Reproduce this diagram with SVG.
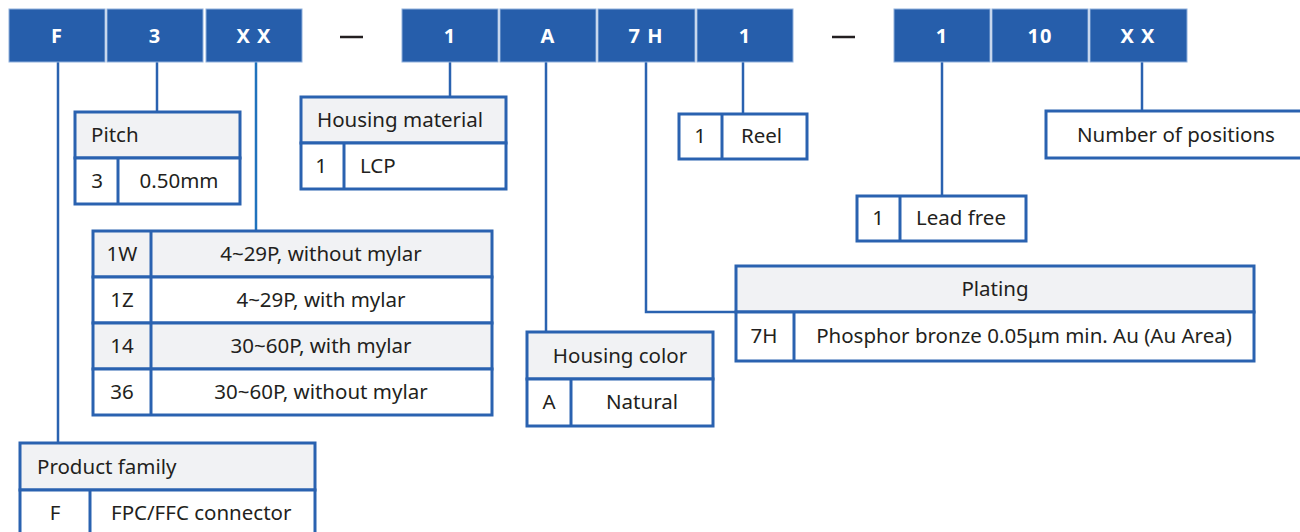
<svg xmlns="http://www.w3.org/2000/svg" width="1300" height="532" viewBox="0 0 1300 532">
<style>
.code{fill:#265eab;stroke:#8fb0dc;stroke-width:1}
.ct{font-family:"Noto Sans","Liberation Sans",sans-serif;font-size:20px;font-weight:bold;fill:#fff;text-anchor:middle;letter-spacing:1px}
.hd{fill:#f1f2f4;stroke:#2a62b0;stroke-width:3}
.cell{fill:#fff;stroke:#2a62b0;stroke-width:3}
.t{font-family:"Noto Sans","Liberation Sans",sans-serif;font-size:20.5px;fill:#231f20}
.m{text-anchor:middle}
.ln{fill:none;stroke:#2a62b0;stroke-width:2.5}
.dash{stroke:#231f20;stroke-width:2.5}
</style>
<rect width="1300" height="532" fill="#fff"/>
<g id="connectors">
<path class="ln" d="M58 62V443"/>
<path class="ln" d="M157 62V112"/>
<path class="ln" d="M256 62V231" style="stroke:#1f72bd"/>
<path class="ln" d="M450 62V97"/>
<path class="ln" d="M546 62V332"/>
<path class="ln" d="M646 62V312H736"/>
<path class="ln" d="M743 62V114"/>
<path class="ln" d="M942 62V196"/>
<path class="ln" d="M1142 62V111"/>
</g>
<g id="code">
<rect class="code" x="9" y="9" width="96" height="53"/><text class="ct" x="57" y="43">F</text>
<rect class="code" x="107" y="9" width="96" height="53"/><text class="ct" x="155" y="43">3</text>
<rect class="code" x="206" y="9" width="96" height="53"/><text class="ct" x="254" y="43">X X</text>
<line class="dash" x1="340" y1="37" x2="363" y2="37"/>
<rect class="code" x="402" y="9" width="96" height="53"/><text class="ct" x="450" y="43">1</text>
<rect class="code" x="500" y="9" width="96" height="53"/><text class="ct" x="548" y="43">A</text>
<rect class="code" x="598" y="9" width="97" height="53"/><text class="ct" x="646" y="43">7 H</text>
<rect class="code" x="697" y="9" width="96" height="53"/><text class="ct" x="745" y="43">1</text>
<line class="dash" x1="832" y1="37" x2="855" y2="37"/>
<rect class="code" x="894" y="9" width="96" height="53"/><text class="ct" x="942" y="43">1</text>
<rect class="code" x="992" y="9" width="96" height="53"/><text class="ct" x="1040" y="43">10</text>
<rect class="code" x="1090" y="9" width="97" height="53"/><text class="ct" x="1138" y="43">X X</text>
</g>
<g id="pitch">
<rect class="hd" x="75" y="112" width="165" height="46"/>
<rect class="cell" x="75" y="158" width="165" height="46"/>
<line class="ln" x1="118" y1="158" x2="118" y2="204" style="stroke-width:3"/>
<text class="t" x="91" y="142">Pitch</text>
<text class="t m" x="97" y="188">3</text>
<text class="t m" x="179" y="188">0.50mm</text>
</g>
<g id="housing-material">
<rect class="hd" x="301" y="97" width="205" height="46"/>
<rect class="cell" x="301" y="143" width="205" height="46"/>
<line class="ln" x1="344" y1="143" x2="344" y2="189" style="stroke-width:3"/>
<text class="t" x="317" y="127">Housing material</text>
<text class="t m" x="321" y="173">1</text>
<text class="t" x="360" y="173">LCP</text>
</g>
<g id="options">
<rect class="hd" x="93" y="231" width="399" height="46"/>
<rect class="cell" x="93" y="277" width="399" height="46"/>
<rect class="hd" x="93" y="323" width="399" height="46"/>
<rect class="cell" x="93" y="369" width="399" height="46"/>
<line class="ln" x1="151" y1="231" x2="151" y2="415" style="stroke-width:3"/>
<text class="t m" x="122" y="261">1W</text>
<text class="t m" x="321" y="261">4~29P, without mylar</text>
<text class="t m" x="122" y="307">1Z</text>
<text class="t m" x="321" y="307">4~29P, with mylar</text>
<text class="t m" x="122" y="353">14</text>
<text class="t m" x="321" y="353">30~60P, with mylar</text>
<text class="t m" x="122" y="399">36</text>
<text class="t m" x="321" y="399">30~60P, without mylar</text>
</g>
<g id="product-family">
<rect class="hd" x="20" y="443" width="295" height="47"/>
<rect class="cell" x="20" y="490" width="295" height="47"/>
<line class="ln" x1="90" y1="490" x2="90" y2="537" style="stroke-width:3"/>
<text class="t" x="37" y="474">Product family</text>
<text class="t m" x="55" y="520">F</text>
<text class="t" x="111" y="520">FPC/FFC connector</text>
</g>
<g id="housing-color">
<rect class="hd" x="527" y="332" width="186" height="47"/>
<rect class="cell" x="527" y="379" width="186" height="47"/>
<line class="ln" x1="571" y1="379" x2="571" y2="426" style="stroke-width:3"/>
<text class="t m" x="620" y="363">Housing color</text>
<text class="t m" x="549" y="409">A</text>
<text class="t m" x="642" y="409">Natural</text>
</g>
<g id="plating">
<rect class="hd" x="736" y="266" width="518" height="46"/>
<rect class="cell" x="736" y="312" width="518" height="49"/>
<line class="ln" x1="794" y1="312" x2="794" y2="361" style="stroke-width:3"/>
<text class="t m" x="995" y="296">Plating</text>
<text class="t m" x="764" y="343">7H</text>
<text class="t m" x="1024" y="343">Phosphor bronze 0.05μm min. Au (Au Area)</text>
</g>
<g id="reel">
<rect class="cell" x="679" y="114" width="128" height="45"/>
<line class="ln" x1="722" y1="114" x2="722" y2="159" style="stroke-width:3"/>
<text class="t m" x="700" y="143">1</text>
<text class="t" x="741" y="143">Reel</text>
</g>
<g id="lead-free">
<rect class="cell" x="857" y="196" width="169" height="45"/>
<line class="ln" x1="900" y1="196" x2="900" y2="241" style="stroke-width:3"/>
<text class="t m" x="878" y="225">1</text>
<text class="t" x="916" y="225">Lead free</text>
</g>
<g id="positions">
<rect class="cell" x="1046" y="111" width="258" height="47"/>
<text class="t" x="1077" y="142">Number of positions</text>
</g>
</svg>
